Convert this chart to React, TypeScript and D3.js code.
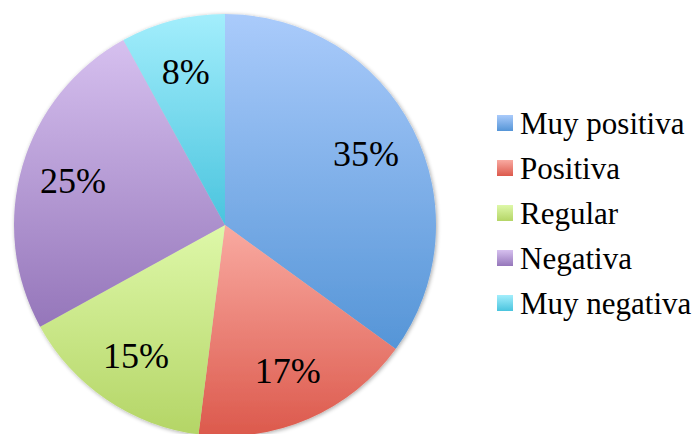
import React from 'react'
import * as d3 from 'd3'

// data
const categories = ['Muy positiva', 'Positiva', 'Regular', 'Negativa', 'Muy negativa']
const values = [35, 17, 15, 25, 8]
const topColors = ['#aacbfb', '#f9aaa1', '#def8a9', '#d6c0ef', '#a3eefc']
const bottomColors = ['#5595d7', '#dc594c', '#b4d566', '#9576ba', '#4ac4de']

const W = 700, H = 434
const cx = 225, cy = 225, r = 211
const font = "'Liberation Serif', 'Times New Roman', Tinos, 'DejaVu Serif', serif"

const App = () => {
  const pie = d3.pie<number>().sort(null).value(d => d)
  const arcs = pie(values)
  const arc = d3.arc<d3.PieArcDatum<number>>().innerRadius(0).outerRadius(r)
  const labelArc = d3.arc<d3.PieArcDatum<number>>().innerRadius(r * 0.75).outerRadius(r * 0.75)

  return (
    <svg width={W} height={H} style={{ position: 'absolute', left: 0, top: 0 }}>
      <defs>
        {categories.map((c, i) => (
          <linearGradient key={c} id={'g' + i} x1="0" y1="0" x2="0" y2="1">
            <stop offset="0" stopColor={topColors[i]} />
            <stop offset="1" stopColor={bottomColors[i]} />
          </linearGradient>
        ))}
        <filter id="sh" x="-10%" y="-10%" width="120%" height="120%">
          <feGaussianBlur in="SourceAlpha" stdDeviation="2" />
          <feOffset dx="1" dy="1" />
          <feComponentTransfer><feFuncA type="linear" slope="0.35" /></feComponentTransfer>
          <feMerge><feMergeNode /><feMergeNode in="SourceGraphic" /></feMerge>
        </filter>
      </defs>
      <g transform={`translate(${cx},${cy})`}>
        <g filter="url(#sh)">
          {arcs.map((a, i) => (
            <path key={i} d={arc(a) || ''} fill={`url(#g${i})`} />
          ))}
        </g>
        {arcs.map((a, i) => {
          const [x, y] = labelArc.centroid(a)
          return (
            <text key={i} x={x} y={y} dy="0.35em" textAnchor="middle"
              style={{ fontFamily: font }} fontSize={36} fill="#000">
              {values[i]}%
            </text>
          )
        })}
      </g>
      <g transform="translate(497,115)">
        {categories.map((c, i) => (
          <g key={c} transform={`translate(0,${i * 45})`}>
            <rect x={0} y={0} width={16} height={16} fill={`url(#g${i})`} />
            <text x={23} y={8} dy="0.35em" style={{ fontFamily: font }}
              fontSize={31} fill="#000">{c}</text>
          </g>
        ))}
      </g>
    </svg>
  )
}

export default App
